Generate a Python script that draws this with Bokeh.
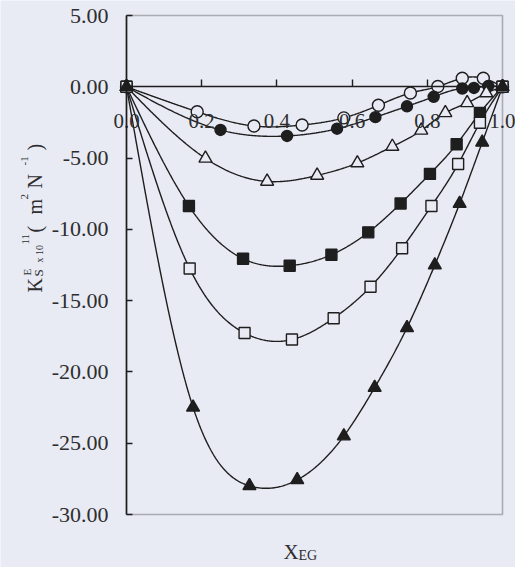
import numpy as np
from math import pi
from bokeh.plotting import figure
from bokeh.models import (LinearAxis, Label, FixedTicker, NumeralTickFormatter,
                          Range1d, BoxAnnotation)
from bokeh.embed import file_html
from bokeh.resources import INLINE

# ---------------- data ----------------
x_ticks = [0.0, 0.2, 0.4, 0.6, 0.8, 1.0]
y_ticks = [-30, -25, -20, -15, -10, -5, 0, 5]

x_open_circle = [0.0, 0.188, 0.339, 0.467, 0.578, 0.670, 0.755, 0.828, 0.893, 0.949, 1.0]
y_open_circle = [0.0, -1.75, -2.75, -2.68, -2.18, -1.30, -0.44, 0.02, 0.60, 0.60, 0.0]

x_filled_circle = [0.0, 0.250, 0.427, 0.560, 0.662, 0.746, 0.817, 0.893, 0.924, 0.962, 1.0]
y_filled_circle = [0.0, -3.03, -3.45, -2.94, -2.13, -1.37, -0.70, -0.12, -0.08, 0.05, 0.0]

x_open_triangle = [0.0, 0.210, 0.374, 0.507, 0.614, 0.707, 0.784, 0.848, 0.906, 0.957, 1.0]
y_open_triangle = [0.0, -5.02, -6.64, -6.22, -5.35, -4.19, -3.06, -1.83, -1.13, -0.44, 0.0]

x_filled_square = [0.0, 0.166, 0.310, 0.434, 0.545, 0.643, 0.729, 0.807, 0.878, 0.940, 1.0]
y_filled_square = [0.0, -8.36, -12.06, -12.55, -11.78, -10.21, -8.19, -6.11, -4.03, -1.83, 0.0]

x_open_square = [0.0, 0.168, 0.314, 0.440, 0.551, 0.649, 0.733, 0.811, 0.882, 0.940, 1.0]
y_open_square = [0.0, -12.75, -17.27, -17.73, -16.23, -14.03, -11.32, -8.36, -5.42, -2.52, 0.0]

x_filled_triangle = [0.0, 0.177, 0.327, 0.454, 0.578, 0.660, 0.746, 0.820, 0.886, 0.946, 1.0]
y_filled_triangle = [0.0, -22.48, -27.99, -27.57, -24.50, -21.10, -16.90, -12.50, -8.19, -3.90, 0.0]

# ---------------- helpers ----------------
def smooth(xs, ys, n=400):
    """natural cubic spline through the data points"""
    xs = np.asarray(xs, float); ys = np.asarray(ys, float)
    m = len(xs); h = np.diff(xs)
    A = np.zeros((m, m)); b = np.zeros(m)
    A[0, 0] = A[-1, -1] = 1.0
    for i in range(1, m - 1):
        A[i, i - 1] = h[i - 1]; A[i, i] = 2 * (h[i - 1] + h[i]); A[i, i + 1] = h[i]
        b[i] = 3 * ((ys[i + 1] - ys[i]) / h[i] - (ys[i] - ys[i - 1]) / h[i - 1])
    c = np.linalg.solve(A, b)
    t = np.linspace(xs[0], xs[-1], n)
    idx = np.clip(np.searchsorted(xs, t) - 1, 0, m - 2)
    d = t - xs[idx]; hh = h[idx]
    bc = (ys[idx + 1] - ys[idx]) / hh - hh * (2 * c[idx] + c[idx + 1]) / 3
    dc = (c[idx + 1] - c[idx]) / (3 * hh)
    return t, ys[idx] + bc * d + c[idx] * d ** 2 + dc * d ** 3

BG = "#e8eaf4"
INK = "#1e1e1e"
TXT = "#2e2e2e"
FONT = "Liberation Serif"

W, H = 515, 567
# where the data box sits on the canvas (pixels)
BL, BR, BT, BB = 126, 502, 15, 514
X0, X1, Y0, Y1 = 0.0, 1.0, -30.0, 5.0
SX = (BR - BL) / (X1 - X0)
SY = (BB - BT) / (Y1 - Y0)

def dx(px):
    return X0 + (px - BL) / SX

def dy(py):
    return Y1 - (py - BT) / SY

p = figure(width=W, height=H, output_backend="svg", toolbar_location=None,
           x_range=Range1d(dx(0), dx(W)), y_range=Range1d(dy(H), dy(0)),
           x_axis_location=None, y_axis_location=None,
           min_border=0, min_border_left=0, min_border_right=0,
           min_border_top=0, min_border_bottom=0)
p.background_fill_color = BG
p.border_fill_color = BG
p.outline_line_color = None
p.grid.visible = False

# plot box
p.add_layout(BoxAnnotation(left=X0, right=X1, bottom=Y0, top=Y1,
                           fill_alpha=0, line_color=INK, line_width=1.6))

# y axis on the left edge of the box
ya = LinearAxis(fixed_location=X0, bounds=(Y0, Y1),
                ticker=FixedTicker(ticks=y_ticks),
                formatter=NumeralTickFormatter(format="0.00"))
ya.major_tick_in = 6
ya.major_tick_out = 0
ya.minor_tick_line_color = None
ya.axis_line_color = INK
ya.axis_line_width = 1.6
ya.major_tick_line_color = INK
ya.major_tick_line_width = 1.4
ya.major_label_text_font = FONT
ya.major_label_text_font_size = "22px"
ya.major_label_text_color = TXT
ya.major_label_standoff = 18
p.add_layout(ya, "left")

# x axis drawn at y = 0
xa = LinearAxis(fixed_location=0, bounds=(X0, X1),
                ticker=FixedTicker(ticks=x_ticks),
                formatter=NumeralTickFormatter(format="0.0"))
xa.major_tick_in = 7
xa.major_tick_out = 0
xa.minor_tick_line_color = None
xa.axis_line_color = INK
xa.axis_line_width = 1.6
xa.major_tick_line_color = INK
xa.major_tick_line_width = 1.4
xa.major_label_text_font = FONT
xa.major_label_text_font_size = "21px"
xa.major_label_text_color = TXT
xa.major_label_standoff = 27
p.add_layout(xa, "below")

series = [
    (x_open_circle, y_open_circle, "circle", BG, 12),
    (x_filled_circle, y_filled_circle, "circle", INK, 11),
    (x_open_triangle, y_open_triangle, "triangle", BG, 13),
    (x_filled_square, y_filled_square, "square", INK, 11),
    (x_open_square, y_open_square, "square", BG, 11),
    (x_filled_triangle, y_filled_triangle, "triangle", INK, 13),
]

for xs, ys, *_ in series:
    t, s = smooth(xs, ys)
    p.line(t, s, line_color=INK, line_width=1.4)

for xs, ys, mk, fill, size in series:
    p.scatter(xs, ys, marker=mk, size=size, fill_color=fill,
              line_color=INK, line_width=1.4)

# y axis title, rotated, built from pieces (sub/superscripts)
ylab = [
    ("K", 34, 292, "20px"),
    ("S", 38, 276, "13px"),
    ("E", 26, 275, "11px"),
    ("x 10", 39, 262, "10px"),
    ("11", 25, 244, "11px"),
    ("(", 34, 232, "20px"),
    ("m", 34, 214, "20px"),
    ("2", 24, 199, "11px"),
    ("N", 34, 188, "20px"),
    ("-1", 24, 165, "11px"),
    (")", 34, 150, "20px"),
]
for txt, bx, sy, fs in ylab:
    p.add_layout(Label(x=dx(bx), y=dy(sy), text=txt, angle=pi / 2,
                       text_align="left", text_baseline="alphabetic",
                       text_font=FONT, text_font_size=fs,
                       text_color=TXT))

# x axis title X_EG
p.add_layout(Label(x=dx(283), y=dy(551), text="X", text_align="left",
                   text_baseline="alphabetic", text_font=FONT,
                   text_font_size="21px", text_color=TXT))
p.add_layout(Label(x=dx(298), y=dy(555), text="EG", text_align="left",
                   text_baseline="alphabetic", text_font=FONT,
                   text_font_size="14px", text_color=TXT))

open("out.html", "w").write(file_html(p, INLINE))
